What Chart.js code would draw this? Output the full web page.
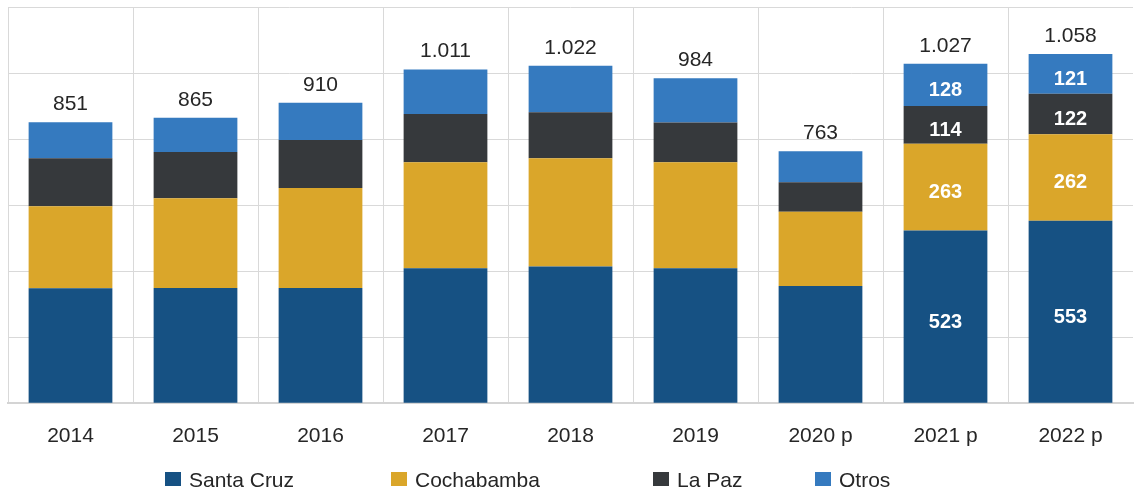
<!DOCTYPE html>
<html>
<head>
<meta charset="utf-8">
<script src="https://cdn.jsdelivr.net/npm/chart.js@4.4.1/dist/chart.umd.min.js"></script>
<style>
  html, body { margin: 0; padding: 0; background: #ffffff; }
  #wrap { position: relative; width: 1134px; height: 493px; }
  #legend {
    position: absolute; left: 165px; top: 468px;
    display: flex; align-items: center;
    font: 21px "Liberation Sans", Arial, sans-serif; color: #262626;
    line-height: 24px;
  }
  .item { display: flex; align-items: center; }
  .swatch { width: 16px; height: 14px; margin-right: 8px; margin-bottom: 3px; }
</style>
</head>
<body>
<div id="wrap">
  <canvas id="chart" width="1134" height="493"></canvas>
  <div id="legend"></div>
</div>
<script>
// Categories (p = preliminar)
const years = ['2014', '2015', '2016', '2017', '2018', '2019', '2020 p', '2021 p', '2022 p'];

// Series values by department
const santaCruz  = [348, 349, 349, 409, 414, 409, 355, 523, 553];
const cochabamba = [249, 272, 303, 321, 328, 321, 225, 263, 262];
const laPaz      = [145, 140, 145, 146, 139, 120,  89, 114, 122];
const otros      = [109, 104, 113, 135, 141, 134,  94, 128, 121];

// Published totals shown above each stack
const totals = [851, 865, 910, 1011, 1022, 984, 763, 1027, 1058];

// Years whose segments carry their own value labels
const labelledYears = ['2021 p', '2022 p'];

// Value axis grid
const yMin = 0, yMax = 1200, yStep = 200;

const seriesNames  = ['Santa Cruz', 'Cochabamba', 'La Paz', 'Otros'];
const seriesValues = [santaCruz, cochabamba, laPaz, otros];
const seriesColors = ['#165183', '#DAA62A', '#36393C', '#357ABF'];

const FONT = '"Liberation Sans", Arial, sans-serif';
const TEXT = '#262626';
const GRID = '#d9d9d9';

function fmt(n) {
  if (n >= 1000) return Math.floor(n / 1000) + '.' + String(n % 1000).padStart(3, '0');
  return String(n);
}

const valueLabels = {
  id: 'valueLabels',
  afterDatasetsDraw(chart) {
    const { ctx, scales: { x, y } } = chart;
    ctx.save();
    ctx.textAlign = 'center';

    // totals above the stacks
    ctx.font = '21px ' + FONT;
    ctx.fillStyle = TEXT;
    ctx.textBaseline = 'alphabetic';
    totals.forEach((t, i) => {
      ctx.fillText(fmt(t), x.getPixelForValue(i), y.getPixelForValue(t) - 12);
    });

    // values inside the segments
    ctx.font = 'bold 20px ' + FONT;
    ctx.fillStyle = '#ffffff';
    ctx.textBaseline = 'middle';
    chart.data.datasets.forEach((ds, di) => {
      const meta = chart.getDatasetMeta(di);
      meta.data.forEach((bar, i) => {
        if (!labelledYears.includes(years[i])) return;
        const p = bar.getProps(['x', 'y', 'base'], true);
        ctx.fillText(fmt(ds.data[i]), p.x, (p.y + p.base) / 2 + 5.5);
      });
    });
    ctx.restore();
  }
};

const chart = new Chart(document.getElementById('chart'), {
  type: 'bar',
  data: {
    labels: years,
    datasets: seriesNames.map((name, k) => ({
      label: name,
      data: seriesValues[k],
      backgroundColor: seriesColors[k],
      borderWidth: 0,
      barPercentage: 0.67,
      categoryPercentage: 1
    }))
  },
  options: {
    responsive: false,
    animation: false,
    events: [],
    layout: { padding: { left: 8, right: 1, top: 7, bottom: 24.5 } },
    plugins: {
      legend: { display: false },
      tooltip: { enabled: false }
    },
    scales: {
      x: {
        stacked: true,
        grid: {
          display: true,
          offset: true,
          drawTicks: false,
          color: (c) => (c.tick ? GRID : 'rgba(0,0,0,0)'),
          lineWidth: 1
        },
        border: { display: true, color: '#d4d4d4', width: 2 },
        ticks: {
          color: TEXT,
          font: { family: FONT, size: 21 },
          padding: 20,
          maxRotation: 0,
          autoSkip: false
        }
      },
      y: {
        stacked: true,
        min: yMin,
        max: yMax,
        ticks: { display: false, stepSize: yStep },
        grid: { color: GRID, lineWidth: 1, drawTicks: false },
        border: { display: false }
      }
    }
  },
  plugins: [valueLabels]
});

// legend row
const legendGaps = [226, 262, 162, null];
const legend = document.getElementById('legend');
seriesNames.forEach((name, k) => {
  const item = document.createElement('div');
  item.className = 'item';
  if (legendGaps[k]) item.style.width = legendGaps[k] + 'px';
  const sw = document.createElement('span');
  sw.className = 'swatch';
  sw.style.background = seriesColors[k];
  const tx = document.createElement('span');
  tx.textContent = name;
  item.appendChild(sw);
  item.appendChild(tx);
  legend.appendChild(item);
});
</script>
</body>
</html>
